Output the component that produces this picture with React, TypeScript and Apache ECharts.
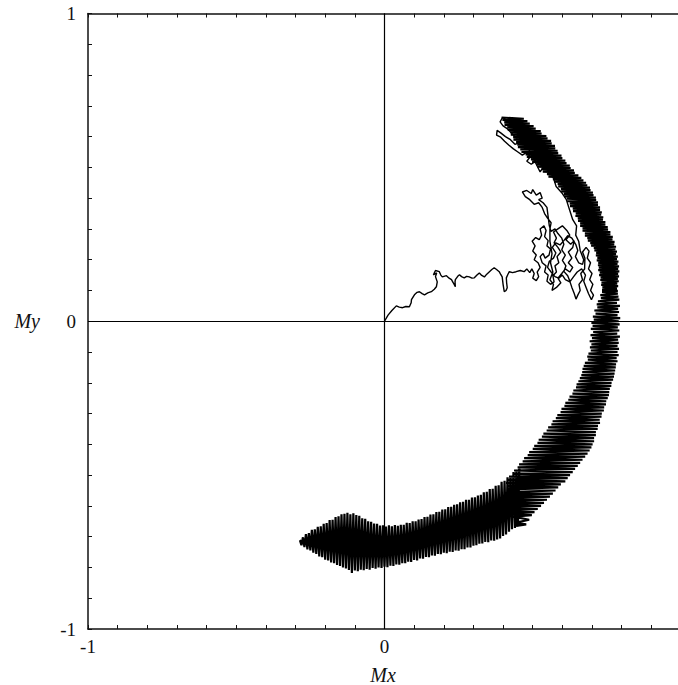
import React, { useEffect, useRef } from "react";
import * as echarts from "echarts";

// Axis ranges / tick labels (the right edge of the frame is cropped just short of Mx = 1)
const X_RANGE = [-1, 0.99];
const Y_RANGE = [-1, 1];
const TICK_STEP = 0.1;
const xLabelValues = [-1, 0];
const yLabelValues = [-1, 0, 1];
const xName = "Mx";
const yName = "My";

// Trajectory of (Mx, My), in drawing order
const tailPath = [
  [0, 0], [0.012, 0.02], [0.025, 0.035], [0.04, 0.05], [0.05, 0.046], [0.061, 0.044], [0.072, 0.048], [0.084, 0.047],
  [0.09, 0.06], [0.091, 0.07], [0.101, 0.086], [0.11, 0.094], [0.118, 0.096], [0.127, 0.09], [0.135, 0.086], [0.146, 0.092],
  [0.158, 0.096], [0.168, 0.104], [0.175, 0.112], [0.178, 0.128], [0.172, 0.145], [0.176, 0.157], [0.165, 0.151], [0.172, 0.165],
  [0.185, 0.161], [0.19, 0.15], [0.195, 0.144], [0.209, 0.148], [0.218, 0.14], [0.226, 0.135], [0.232, 0.125], [0.239, 0.112],
  [0.238, 0.128], [0.239, 0.135], [0.247, 0.146], [0.253, 0.151], [0.26, 0.145], [0.269, 0.141], [0.277, 0.146], [0.286, 0.144],
  [0.295, 0.14], [0.303, 0.141], [0.312, 0.15], [0.32, 0.157], [0.328, 0.149], [0.337, 0.144], [0.345, 0.153], [0.354, 0.161],
  [0.362, 0.168], [0.37, 0.174], [0.378, 0.168], [0.387, 0.161], [0.392, 0.152], [0.397, 0.144], [0.4, 0.12], [0.404, 0.096],
  [0.41, 0.1], [0.414, 0.109], [0.412, 0.125], [0.411, 0.141], [0.416, 0.152], [0.421, 0.161], [0.432, 0.158], [0.444, 0.161],
  [0.458, 0.165], [0.471, 0.161],
];

const wanderPath = [
  [0.48, 0.17], [0.49, 0.158], [0.497, 0.17], [0.505, 0.155], [0.5, 0.14], [0.512, 0.132], [0.52, 0.145], [0.515, 0.16],
  [0.525, 0.175], [0.518, 0.19], [0.505, 0.2], [0.512, 0.215], [0.5, 0.228], [0.508, 0.245], [0.498, 0.26], [0.51, 0.272],
  [0.522, 0.265], [0.53, 0.28], [0.525, 0.3], [0.538, 0.31], [0.545, 0.295], [0.54, 0.275], [0.552, 0.262], [0.548, 0.245],
  [0.56, 0.235], [0.555, 0.215], [0.542, 0.205], [0.535, 0.22], [0.525, 0.21], [0.532, 0.19], [0.545, 0.18], [0.54, 0.16],
  [0.552, 0.15], [0.548, 0.13], [0.56, 0.12], [0.572, 0.128], [0.568, 0.148], [0.58, 0.16], [0.575, 0.18], [0.588, 0.19],
  [0.582, 0.21], [0.595, 0.225], [0.585, 0.24], [0.572, 0.255], [0.58, 0.27], [0.57, 0.29], [0.585, 0.3], [0.6, 0.31],
  [0.615, 0.295], [0.625, 0.28], [0.612, 0.265], [0.628, 0.25], [0.64, 0.262], [0.635, 0.24], [0.62, 0.225], [0.632, 0.205],
  [0.62, 0.19], [0.635, 0.175], [0.625, 0.16], [0.61, 0.17], [0.598, 0.155], [0.585, 0.14], [0.595, 0.125], [0.58, 0.11],
  [0.565, 0.1], [0.57, 0.12], [0.558, 0.135], [0.568, 0.16], [0.56, 0.19], [0.565, 0.22], [0.558, 0.26], [0.558, 0.3],
  [0.562, 0.32], [0.55, 0.335], [0.54, 0.35], [0.532, 0.37], [0.52, 0.385], [0.505, 0.38], [0.49, 0.395], [0.475, 0.405],
  [0.465, 0.42], [0.48, 0.425], [0.495, 0.415], [0.5, 0.428], [0.512, 0.41], [0.525, 0.418], [0.532, 0.4], [0.52, 0.395],
  [0.535, 0.385], [0.548, 0.37], [0.552, 0.34], [0.556, 0.31], [0.562, 0.292], [0.575, 0.3], [0.585, 0.285], [0.598, 0.27],
  [0.605, 0.25], [0.598, 0.232], [0.61, 0.215], [0.6, 0.198], [0.612, 0.18], [0.605, 0.162], [0.618, 0.148], [0.623, 0.136],
  [0.632, 0.11], [0.64, 0.09], [0.646, 0.072], [0.652, 0.085], [0.66, 0.1], [0.656, 0.12], [0.668, 0.135], [0.662, 0.155],
  [0.675, 0.17], [0.676, 0.205], [0.668, 0.225], [0.68, 0.24], [0.69, 0.228], [0.684, 0.205], [0.695, 0.19], [0.688, 0.17],
  [0.7, 0.155], [0.692, 0.135], [0.703, 0.12], [0.695, 0.1], [0.705, 0.085], [0.698, 0.07], [0.688, 0.09], [0.68, 0.11],
  [0.672, 0.13], [0.678, 0.15], [0.665, 0.17], [0.65, 0.16], [0.638, 0.145], [0.625, 0.128], [0.61, 0.135], [0.6, 0.15],
  [0.588, 0.14], [0.575, 0.145], [0.562, 0.16], [0.55, 0.175], [0.556, 0.195], [0.57, 0.205], [0.578, 0.222], [0.566, 0.24],
  [0.578, 0.255], [0.592, 0.248], [0.605, 0.262], [0.618, 0.278], [0.632, 0.27], [0.645, 0.25], [0.652, 0.23], [0.644, 0.21],
  [0.655, 0.19], [0.668, 0.185],
];

const climbPath = [
  [0.672, 0.2], [0.66, 0.23], [0.655, 0.26], [0.645, 0.28], [0.648, 0.31], [0.635, 0.33], [0.625, 0.36], [0.613, 0.396],
  [0.6, 0.415], [0.579, 0.438], [0.57, 0.465], [0.556, 0.493], [0.545, 0.51], [0.532, 0.526], [0.52, 0.545], [0.505, 0.56],
  [0.49, 0.575],
];

const topCluster = [
  [0.475, 0.59], [0.46, 0.6], [0.445, 0.595], [0.43, 0.61], [0.415, 0.625], [0.4, 0.635], [0.39, 0.648], [0.398, 0.662],
  [0.412, 0.655], [0.425, 0.66], [0.438, 0.645], [0.45, 0.65], [0.46, 0.635], [0.445, 0.625], [0.458, 0.615], [0.472, 0.622],
  [0.485, 0.61], [0.478, 0.595], [0.492, 0.588], [0.505, 0.6], [0.515, 0.585], [0.5, 0.572], [0.485, 0.565], [0.47, 0.575],
  [0.455, 0.58], [0.44, 0.575], [0.425, 0.59], [0.408, 0.6], [0.392, 0.612], [0.38, 0.62], [0.378, 0.605], [0.392, 0.598],
  [0.405, 0.585], [0.42, 0.572], [0.435, 0.56], [0.45, 0.55], [0.465, 0.54], [0.478, 0.548], [0.492, 0.535], [0.48, 0.52],
  [0.495, 0.51], [0.51, 0.52], [0.505, 0.54], [0.52, 0.55], [0.532, 0.535], [0.52, 0.515], [0.535, 0.5], [0.525, 0.485],
  [0.45, 0.63],
];

const upperArcPath = [
  [0.395, 0.662], [0.47, 0.658], [0.398, 0.654], [0.482, 0.65], [0.404, 0.646], [0.49, 0.642], [0.405, 0.638], [0.503, 0.634],
  [0.414, 0.63], [0.51, 0.626], [0.416, 0.622], [0.527, 0.618], [0.425, 0.614], [0.53, 0.61], [0.426, 0.606], [0.546, 0.602],
  [0.434, 0.598], [0.55, 0.594], [0.435, 0.59], [0.562, 0.586], [0.444, 0.582], [0.564, 0.578], [0.448, 0.574], [0.575, 0.57],
  [0.45, 0.566], [0.576, 0.562], [0.458, 0.558], [0.584, 0.554], [0.462, 0.55], [0.586, 0.546], [0.476, 0.542], [0.597, 0.538],
  [0.48, 0.534], [0.6, 0.53], [0.494, 0.526], [0.61, 0.522], [0.498, 0.518], [0.614, 0.514], [0.512, 0.51], [0.625, 0.506],
  [0.516, 0.502], [0.628, 0.498], [0.53, 0.494], [0.639, 0.49], [0.534, 0.486], [0.642, 0.482], [0.548, 0.478], [0.654, 0.474],
  [0.553, 0.47], [0.664, 0.466], [0.568, 0.462], [0.671, 0.458], [0.572, 0.454], [0.68, 0.45], [0.584, 0.446], [0.684, 0.442],
  [0.586, 0.438], [0.693, 0.434], [0.595, 0.43], [0.695, 0.426], [0.596, 0.422], [0.703, 0.418], [0.605, 0.414], [0.705, 0.41],
  [0.606, 0.406], [0.713, 0.402], [0.615, 0.398], [0.714, 0.394], [0.616, 0.39], [0.72, 0.386], [0.625, 0.382], [0.72, 0.378],
  [0.626, 0.374], [0.727, 0.37], [0.635, 0.366], [0.727, 0.362], [0.636, 0.358], [0.733, 0.354], [0.645, 0.35], [0.731, 0.346],
  [0.644, 0.342], [0.738, 0.338], [0.652, 0.334], [0.737, 0.33], [0.653, 0.326], [0.745, 0.322], [0.66, 0.318], [0.745, 0.314],
  [0.66, 0.31], [0.753, 0.306], [0.668, 0.302], [0.754, 0.298], [0.668, 0.294], [0.762, 0.29], [0.676, 0.286], [0.762, 0.282],
  [0.676, 0.278], [0.77, 0.274], [0.684, 0.27], [0.769, 0.266], [0.686, 0.262], [0.776, 0.258], [0.694, 0.254], [0.775, 0.25],
  [0.697, 0.246], [0.781, 0.242], [0.706, 0.238], [0.779, 0.234], [0.708, 0.23], [0.784, 0.226], [0.714, 0.222], [0.781, 0.218],
  [0.713, 0.214], [0.787, 0.21], [0.718, 0.206], [0.784, 0.202], [0.716, 0.198], [0.789, 0.194], [0.721, 0.19], [0.786, 0.186],
  [0.72, 0.182], [0.791, 0.178], [0.723, 0.174], [0.788, 0.17], [0.721, 0.166], [0.792, 0.162], [0.726, 0.158], [0.788, 0.154],
  [0.724, 0.15], [0.791, 0.146], [0.729, 0.142], [0.787, 0.138], [0.728, 0.134], [0.79, 0.13], [0.732, 0.126], [0.785, 0.122],
  [0.731, 0.118], [0.788, 0.114], [0.735, 0.11], [0.784, 0.106], [0.734, 0.102],
];

const rightBandPath = [
  [0.787, 0.099], [0.734, 0.095], [0.787, 0.09], [0.728, 0.085], [0.789, 0.08], [0.73, 0.075], [0.792, 0.07], [0.72, 0.065],
  [0.784, 0.06], [0.716, 0.055], [0.794, 0.05], [0.718, 0.045], [0.788, 0.04], [0.708, 0.035], [0.791, 0.03], [0.712, 0.025],
  [0.786, 0.02], [0.703, 0.015], [0.795, 0.01], [0.706, 0.005], [0.79, 0.0], [0.698, -0.005],
  [0.793, -0.01], [0.702, -0.015], [0.787, -0.02], [0.696, -0.025], [0.792, -0.03], [0.704, -0.035], [0.785, -0.04], [0.695, -0.045],
  [0.794, -0.05], [0.7, -0.055], [0.788, -0.06], [0.692, -0.065], [0.79, -0.07], [0.698, -0.075], [0.786, -0.08], [0.693, -0.085],
  [0.791, -0.09], [0.696, -0.095], [0.786, -0.1], [0.688, -0.105], [0.79, -0.11], [0.684, -0.115], [0.783, -0.12], [0.686, -0.125],
  [0.786, -0.13], [0.676, -0.135], [0.781, -0.14], [0.672, -0.145], [0.78, -0.15], [0.668, -0.155], [0.778, -0.16], [0.667, -0.165],
  [0.776, -0.17], [0.664, -0.175], [0.774, -0.18], [0.659, -0.185], [0.771, -0.19],
  [0.654, -0.195], [0.766, -0.2], [0.648, -0.205], [0.765, -0.21], [0.646, -0.215], [0.76, -0.22], [0.637, -0.225], [0.758, -0.23],
  [0.634, -0.235], [0.757, -0.24], [0.624, -0.245], [0.753, -0.25], [0.62, -0.255], [0.748, -0.26], [0.61, -0.265], [0.747, -0.27],
  [0.607, -0.275], [0.741, -0.28], [0.597, -0.285], [0.74, -0.29], [0.594, -0.295],
  [0.733, -0.3], [0.583, -0.305], [0.732, -0.31], [0.578, -0.315], [0.726, -0.32], [0.567, -0.325], [0.727, -0.33], [0.563, -0.335],
  [0.72, -0.34], [0.552, -0.345], [0.719, -0.35], [0.547, -0.355], [0.713, -0.36], [0.536, -0.365], [0.713, -0.37], [0.531, -0.375],
  [0.707, -0.38], [0.52, -0.385], [0.707, -0.39], [0.516, -0.395], [0.702, -0.4], [0.505, -0.405],
  [0.698, -0.41], [0.5, -0.415], [0.692, -0.42], [0.488, -0.425], [0.685, -0.43], [0.483, -0.435], [0.677, -0.44], [0.471, -0.445],
  [0.668, -0.45], [0.466, -0.455], [0.66, -0.46], [0.454, -0.465], [0.652, -0.47], [0.449, -0.475], [0.643, -0.48], [0.437, -0.485],
  [0.635, -0.49], [0.432, -0.495], [0.626, -0.5], [0.42, -0.505], [0.618, -0.51], [0.412, -0.515], [0.61, -0.52],
  [0.41, -0.525], [0.595, -0.53], [0.415, -0.535], [0.586, -0.54], [0.412, -0.545], [0.577, -0.55], [0.418, -0.555], [0.568, -0.56],
  [0.415, -0.565], [0.558, -0.57], [0.42, -0.575], [0.548, -0.58], [0.418, -0.585], [0.538, -0.59], [0.425, -0.595], [0.528, -0.6],
  [0.422, -0.605], [0.517, -0.61], [0.43, -0.615], [0.506, -0.62], [0.43, -0.625], [0.497, -0.63], [0.435, -0.635], [0.488, -0.645],
  [0.44, -0.655], [0.478, -0.66], [0.445, -0.665],
];

const lowerBandPath = [
  [0.455, -0.475], [0.45, -0.667], [0.445, -0.483], [0.44, -0.672], [0.435, -0.49], [0.43, -0.676], [0.425, -0.502], [0.42, -0.684],
  [0.415, -0.507], [0.41, -0.693], [0.405, -0.518], [0.4, -0.698], [0.395, -0.522], [0.39, -0.706], [0.385, -0.533], [0.38, -0.709],
  [0.375, -0.535], [0.37, -0.713], [0.365, -0.544], [0.36, -0.712], [0.355, -0.545], [0.35, -0.718], [0.345, -0.554], [0.34, -0.717],
  [0.335, -0.556], [0.33, -0.722], [0.325, -0.564], [0.32, -0.723], [0.315, -0.566], [0.31, -0.728], [0.305, -0.572], [0.3, -0.729],
  [0.295, -0.573], [0.29, -0.735], [0.285, -0.58], [0.28, -0.735], [0.275, -0.58], [0.27, -0.741], [0.265, -0.587], [0.26, -0.741],
  [0.255, -0.588], [0.25, -0.746], [0.245, -0.595], [0.24, -0.745], [0.235, -0.596], [0.23, -0.75], [0.225, -0.603], [0.22, -0.749],
  [0.215, -0.604], [0.21, -0.754], [0.205, -0.611], [0.2, -0.752], [0.195, -0.612], [0.19, -0.757], [0.185, -0.619], [0.18, -0.756],
  [0.175, -0.62], [0.17, -0.762], [0.165, -0.627], [0.16, -0.761], [0.155, -0.628], [0.15, -0.767], [0.145, -0.635], [0.14, -0.766],
  [0.135, -0.636], [0.13, -0.772], [0.125, -0.643], [0.12, -0.771], [0.115, -0.644], [0.11, -0.777], [0.105, -0.65], [0.1, -0.776],
  [0.095, -0.65], [0.09, -0.782], [0.085, -0.656], [0.08, -0.781], [0.075, -0.655], [0.07, -0.786], [0.065, -0.661], [0.06, -0.786],
  [0.055, -0.661], [0.05, -0.791], [0.045, -0.665], [0.04, -0.79], [0.035, -0.662], [0.03, -0.795], [0.025, -0.666], [0.02, -0.794],
  [0.015, -0.663], [0.01, -0.799], [0.005, -0.667], [0.0, -0.798], [-0.005, -0.663], [-0.01, -0.802], [-0.015, -0.664], [-0.02, -0.8],
  [-0.025, -0.658], [-0.03, -0.804], [-0.035, -0.657], [-0.04, -0.802], [-0.045, -0.652], [-0.05, -0.807], [-0.055, -0.65], [-0.06, -0.805],
  [-0.065, -0.642], [-0.07, -0.809], [-0.075, -0.64], [-0.08, -0.807], [-0.085, -0.632], [-0.09, -0.812], [-0.095, -0.63], [-0.1, -0.81],
  [-0.105, -0.624], [-0.11, -0.818], [-0.115, -0.627], [-0.12, -0.808], [-0.125, -0.622], [-0.13, -0.803], [-0.135, -0.626], [-0.14, -0.8],
  [-0.145, -0.627], [-0.15, -0.795], [-0.155, -0.634], [-0.16, -0.792], [-0.165, -0.636], [-0.17, -0.786], [-0.175, -0.645], [-0.18, -0.784],
  [-0.185, -0.646], [-0.19, -0.777], [-0.195, -0.656], [-0.2, -0.775], [-0.205, -0.658], [-0.21, -0.767], [-0.215, -0.666], [-0.22, -0.764],
  [-0.225, -0.668], [-0.23, -0.756], [-0.235, -0.676], [-0.24, -0.752], [-0.245, -0.678], [-0.25, -0.745], [-0.255, -0.688], [-0.26, -0.741],
  [-0.265, -0.692], [-0.27, -0.734], [-0.275, -0.702], [-0.28, -0.728], [-0.285, -0.712], [-0.275, -0.72],
];

const wanderTrajectory = [...tailPath, ...wanderPath, ...climbPath, ...topCluster];
const bandTrajectory = [...upperArcPath, ...rightBandPath, ...lowerBandPath];

const FONT = "'Liberation Serif', 'Times New Roman', serif";
const INK = "#111";

const labelFor = (values: number[]) => (v: number) => {
  const hit = values.find((t) => Math.abs(t - v) < 1e-6);
  return hit === undefined ? "" : String(hit);
};

export default function App() {
  const ref = useRef<HTMLDivElement>(null);

  useEffect(() => {
    if (!ref.current) return;
    const chart = echarts.init(ref.current, undefined, { renderer: "svg" });
    const axisLine = { show: true, onZero: false, lineStyle: { color: INK, width: 1.5 } };
    const axisTick = { show: true, inside: true, length: 4, lineStyle: { color: INK, width: 1 } };
    chart.setOption({
      animation: false,
      backgroundColor: "#fff",
      grid: {
        left: 88,
        right: 0,
        top: 13.5,
        bottom: 56,
        containLabel: false,
        outerBoundsMode: "none",
      },
      xAxis: [
        {
          type: "value",
          min: X_RANGE[0],
          max: X_RANGE[1],
          interval: TICK_STEP,
          position: "bottom",
          axisLine,
          axisTick,
          splitLine: { show: false },
          axisLabel: {
            formatter: labelFor(xLabelValues),
            fontFamily: FONT,
            fontSize: 19,
            color: INK,
            margin: 8,
          },
          name: xName,
          nameLocation: "middle",
          nameGap: 36,
          nameTextStyle: { fontFamily: FONT, fontStyle: "italic", fontSize: 20, color: INK },
        },
        {
          type: "value",
          min: X_RANGE[0],
          max: X_RANGE[1],
          interval: TICK_STEP,
          position: "top",
          axisLine,
          axisTick,
          splitLine: { show: false },
          axisLabel: { show: false },
        },
      ],
      yAxis: [
        {
          type: "value",
          min: Y_RANGE[0],
          max: Y_RANGE[1],
          interval: TICK_STEP,
          position: "left",
          axisLine,
          axisTick,
          splitLine: { show: false },
          axisLabel: {
            formatter: labelFor(yLabelValues),
            fontFamily: FONT,
            fontSize: 19,
            color: INK,
            margin: 12,
          },
          name: yName,
          nameLocation: "middle",
          nameRotate: 0,
          nameGap: 48,
          nameTextStyle: {
            fontFamily: FONT,
            fontStyle: "italic",
            fontSize: 20,
            color: INK,
            padding: [10, 0, 0, 0],
          },
        },
      ],
      series: [
        {
          type: "line",
          data: wanderTrajectory,
          showSymbol: false,
          symbol: "none",
          silent: true,
          clip: true,
          lineStyle: { color: "#000", width: 1.4 },
          markLine: {
            silent: true,
            symbol: "none",
            animation: false,
            label: { show: false },
            lineStyle: { color: "#000", width: 1.2, type: "solid" },
            data: [{ xAxis: 0 }, { yAxis: 0 }],
          },
        },
        {
          type: "line",
          data: bandTrajectory,
          showSymbol: false,
          symbol: "none",
          silent: true,
          clip: true,
          lineStyle: { color: "#000", width: 2.2 },
        },
      ],
    });
    return () => chart.dispose();
  }, []);

  return (
    <div
      ref={ref}
      style={{ position: "fixed", left: 0, top: 0, width: 678, height: 685, background: "#fff" }}
    />
  );
}
